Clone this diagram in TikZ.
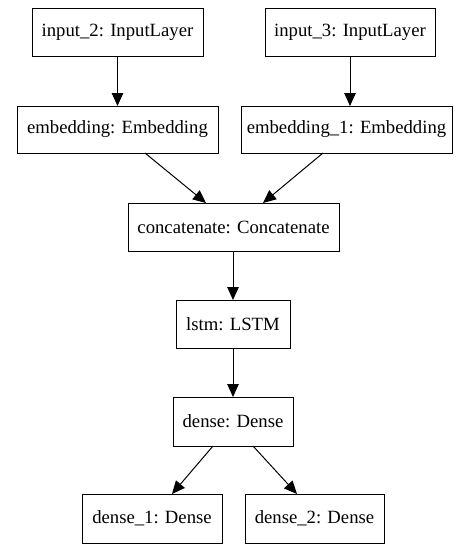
\documentclass[tikz,border=0pt]{standalone}
\usepackage{fontspec}
\setmainfont{Liberation Serif}
\usetikzlibrary{arrows.meta,calc}
\begin{document}
\begin{tikzpicture}[x=1pt,y=-1pt,
  layer/.style={draw=black,line width=1pt,inner sep=0pt,outer sep=0pt,
    font=\fontsize{18.7}{22}\selectfont,fill=white},
  edge/.style={line width=1pt,-{Triangle[length=13pt,width=11.5pt]}}]
\useasboundingbox[fill=white] (0,0) rectangle (471,554);
\node[layer,minimum width=171pt,minimum height=48pt] (in2) at (117.5,32) {input\_2: InputLayer};
\node[layer,minimum width=170pt,minimum height=48pt] (in3) at (350,32) {input\_3: InputLayer};
\node[layer,minimum width=201pt,minimum height=47pt] (emb) at (117.5,129.5) {embedding: Embedding};
\node[layer,minimum width=211pt,minimum height=47pt] (emb1) at (346.5,129.5) {embedding\_1: Embedding};
\node[layer,minimum width=211pt,minimum height=48pt] (cat) at (233.5,227) {concatenate: Concatenate};
\node[layer,minimum width=114pt,minimum height=48pt] (lstm) at (233,324) {lstm: LSTM};
\node[layer,minimum width=120pt,minimum height=49pt] (dense) at (233,421.5) {dense: Dense};
\node[layer,minimum width=140pt,minimum height=49pt] (d1) at (152,518.5) {dense\_1: Dense};
\node[layer,minimum width=139pt,minimum height=49pt] (d2) at (314.5,518.5) {dense\_2: Dense};
\draw[edge] (in2.south) -- (emb.north);
\draw[edge] (in3.south) -- (in3.south |- emb1.north);
\draw[edge] ($(emb.south)+(27.5,0)$) -- ($(cat.north)+(-27.5,0)$);
\draw[edge] ($(emb1.south)+(-23.5,0)$) -- ($(cat.north)+(29.5,0)$);
\draw[edge] (cat.south -| lstm.north) -- (lstm.north);
\draw[edge] (lstm.south) -- (dense.north);
\draw[edge] ($(dense.south)+(-20,0)$) -- ($(d1.north)+(20,0)$);
\draw[edge] ($(dense.south)+(20,0)$) -- ($(d2.north)+(-17.5,0)$);
\end{tikzpicture}
\end{document}
